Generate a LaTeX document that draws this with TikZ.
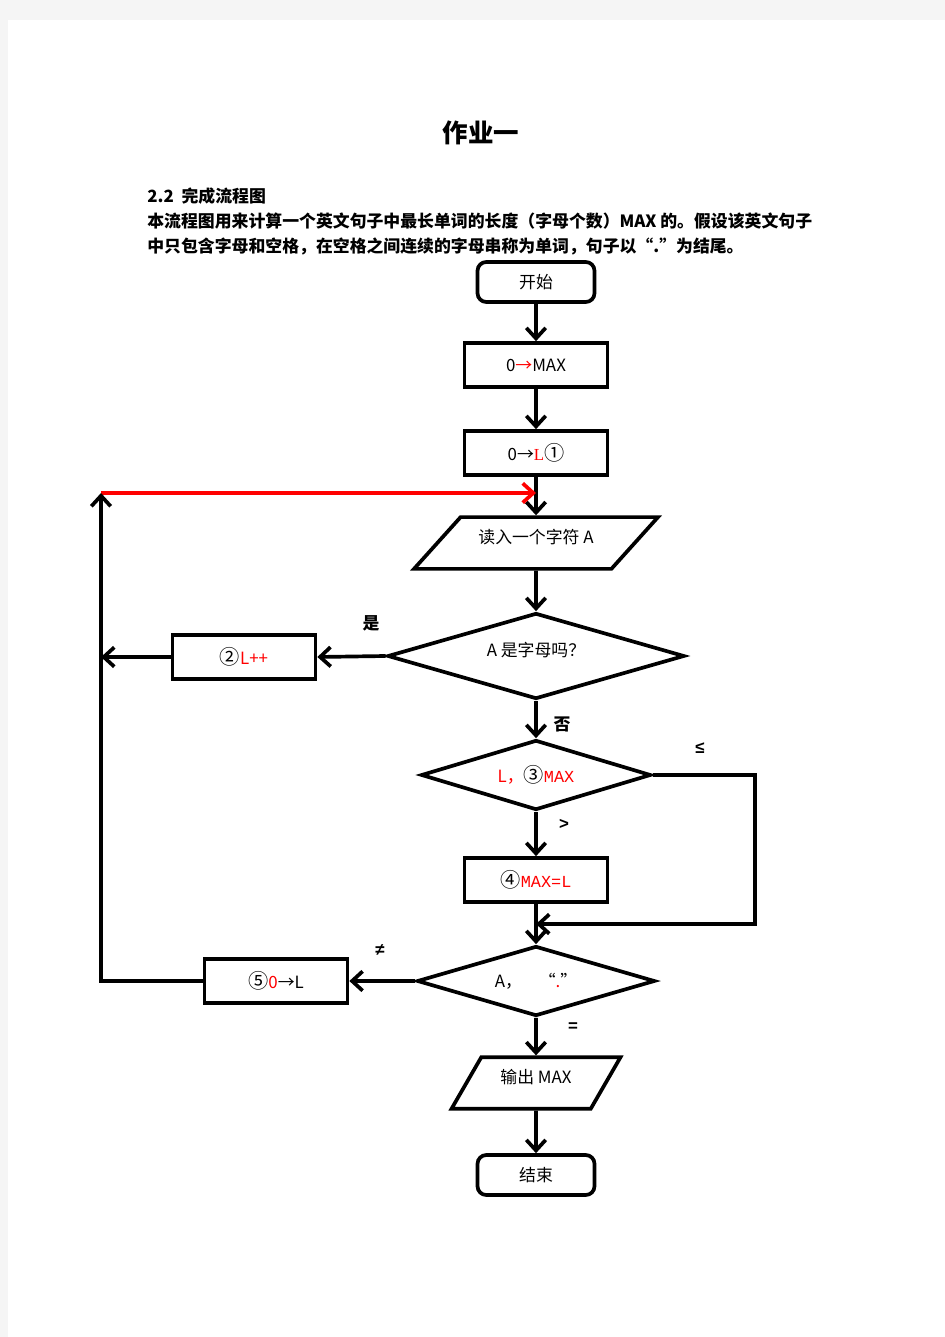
\documentclass[tikz,border=0pt]{standalone}
\usepackage{fontspec}
\setmainfont{Noto Sans CJK SC}
\newfontfamily\monofont{Liberation Mono}
\newfontfamily\seriffont{Liberation Serif}
\newfontfamily\symfont{Liberation Sans}
\usetikzlibrary{shapes.geometric,arrows.meta}
\newcommand{\cnum}[1]{{\fontsize{11.5pt}{12pt}\selectfont #1}}
\newcommand{\lift}[1]{\raisebox{3.5pt}[\height][\depth]{#1}}

\tikzset{
  every node/.style={font=\fontsize{9.6pt}{11pt}\selectfont},
  box/.style={draw, line width=2.1pt, minimum width=2.86cm, minimum height=0.88cm, inner sep=0pt},
  term/.style={box, rounded corners=5pt, minimum width=2.34cm, minimum height=0.8cm},
  io/.style={draw, line width=2.1pt, trapezium, trapezium stretches body, inner xsep=0pt, inner ysep=0.36cm},
  test/.style={draw, line width=2.1pt, diamond, aspect=3.3, inner sep=0pt, minimum height=1.4cm},
  arr/.style={line width=2.1pt, -{Straight Barb[length=6pt,width=11pt]}},
  tag/.style={font=\fontsize{9.6pt}{11pt}\selectfont\bfseries, inner sep=0pt},
  sym/.style={tag, font=\symfont\bfseries\fontsize{9.6pt}{11pt}\selectfont},
}

\begin{document}
\begin{tikzpicture}[x=0.02cm,y=-0.02cm]
			\useasboundingbox (0,0) rectangle (945,1337);
			\fill[black!4] (0,0) rectangle (945,1337);
			\fill[white] (8,20) rectangle (945,1337);
			\node[font=\fontsize{14.5pt}{17pt}\selectfont\bfseries] (title) at (481,133) {作业一};
			\node[tag, anchor=west] (sec) at (147,196) {2.2\ \ 完成流程图};
			\node[tag, anchor=west] (desca) at (147,221) {本流程图用来计算一个英文句子中最长单词的长度（字母个数）MAX 的。假设该英文句子};
			\node[tag, anchor=west] (descb) at (147,246) {中只包含字母和空格，在空格之间连续的字母串称为单词，句子以“.”为结尾。};
			\node[term] (start) at (536,282) {开始};
			\node[box] (max) at (536,365) {0{\color{red}→}MAX};
			\node[box] (initL) at (536,453) {0→{\seriffont\color{red}L}\cnum{①}};
			\node[io, trapezium left angle=48, trapezium right angle=132, minimum width=4.88cm] (read) at (536,543) {\lift{读入一个字符 A}};
			\node[test, minimum width=5.94cm, minimum height=1.72cm] (isletter) at (536,656) {\lift{A 是字母吗？}};
			\node[box] (inc) at (244,657) {\cnum{②}{\color{red}L++}};
			\node[test, minimum width=4.6cm] (cmp) at (536,775) {{\color{red}L，}\cnum{③}{\monofont\color{red}MAX}};
			\node[box] (setmax) at (536,880) {\cnum{④}{\monofont\color{red}MAX=L}};
			\node[test, minimum width=4.76cm] (isdot) at (536,981) {A，\quad“{\color{red}.}”};
			\node[box] (reset) at (276,981) {\cnum{⑤}{\color{red}0}→L};
			\node[io, trapezium left angle=60, trapezium right angle=120, minimum width=3.38cm] (out) at (536,1083) {\lift{输出 MAX}};
			\node[term] (stop) at (536,1175) {结束};
			\coordinate (loop) at (101,493);
			\coordinate (side) at (755,775);
			\coordinate (merge) at (536,924);
			\draw[arr] (start) -- (max);
			\draw[arr] (max) -- (initL);
			\draw[arr] (initL) -- (read);
			\draw[arr, red] (loop) -- (loop -| initL.south);
			\draw[arr] (read) -- (isletter);
			\draw[arr] (isletter.west) -- (inc.east);
			\draw[arr] (inc.west) -- (inc.west -| loop);
			\draw[arr] (isletter) -- (cmp);
			\draw[arr] (cmp) -- (setmax);
			\draw[arr] (cmp.east) -- (side) |- (merge);
			\draw[arr] (setmax) -- (isdot);
			\draw[arr] (isdot.west) -- (reset.east);
			\draw[arr] (reset.west) -| (loop);
			\draw[arr] (isdot) -- (out);
			\draw[arr] (out) -- (stop);
			\node[tag] (yes) at (371,623) {是};
			\node[tag] (no) at (562,724) {否};
			\node[sym] (le) at (700,748) {≤};
			\node[sym] (gt) at (564,824) {>};
			\node[sym] (ne) at (380,950) {≠};
			\node[sym] (eq) at (573,1027) {=};
		\end{tikzpicture}
\end{document}
